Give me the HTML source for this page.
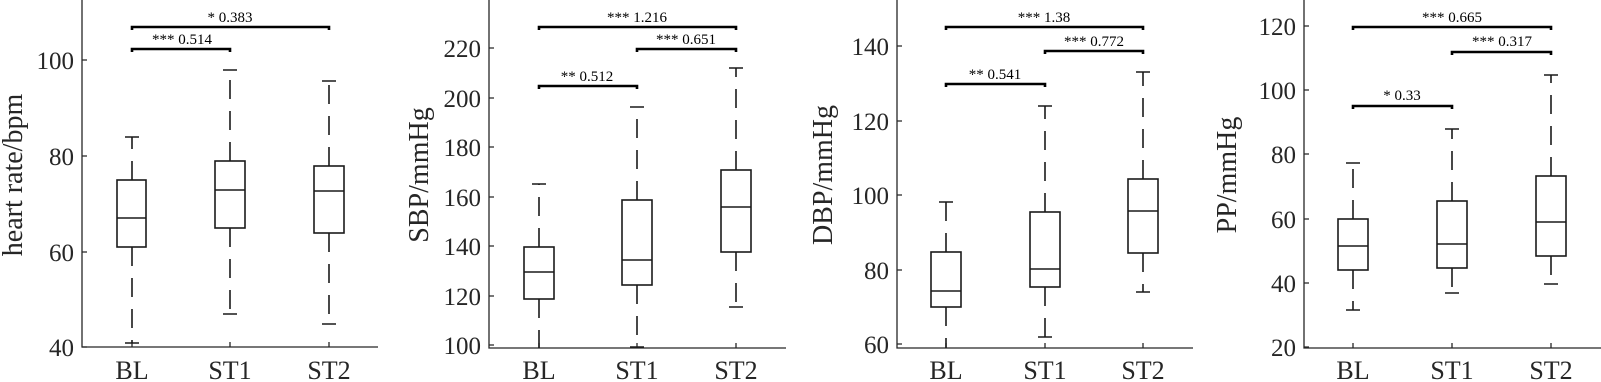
<!DOCTYPE html>
<html><head><meta charset="utf-8"><style>
html,body{margin:0;padding:0;background:#fff;}
svg{display:block;}
text{font-family:"Liberation Serif","DejaVu Serif",serif;}
.ax{stroke:#262626;stroke-width:1.3;fill:none}
.bx{stroke:#1a1a1a;stroke-width:1.6;fill:none}
.wd{stroke:#1a1a1a;stroke-width:1.6;stroke-dasharray:19 12;fill:none}
.br{stroke:#000;stroke-width:2.6;fill:none}
.tl{font-size:25px;fill:#262626;text-anchor:end}
.xl{font-size:26px;fill:#262626;text-anchor:middle}
.yl{font-size:28px;fill:#262626;text-anchor:middle}
.st{font-size:15px;fill:#000;text-anchor:middle}
</style></head><body>
<svg width="1601" height="382" viewBox="0 0 1601 382" xmlns="http://www.w3.org/2000/svg">
<!-- Panel 1 -->
<g>
<path class="ax" d="M82,0V347H378"/>
<path class="ax" d="M82,347h5M82,252h5M82,156h5M82,60h5M132,347v-5M230,347v-5M329,347v-5"/>
<text class="tl" x="74" y="356">40</text><text class="tl" x="74" y="261">60</text><text class="tl" x="74" y="165">80</text><text class="tl" x="74" y="69">100</text>
<text class="xl" x="132" y="379">BL</text><text class="xl" x="230" y="379">ST1</text><text class="xl" x="329" y="379">ST2</text>
<text class="yl" transform="translate(22,175) rotate(-90)">heart rate/bpm</text>
<rect class="bx" x="117" y="180" width="29" height="67"/><path class="bx" d="M117,218h29M125,137h14M125,343h14"/><path class="wd" d="M132,180V137M132,247V343"/>
<rect class="bx" x="215" y="161" width="30" height="67"/><path class="bx" d="M215,190h30M223,70h14M223,314h14"/><path class="wd" d="M230,161V70M230,228V314"/>
<rect class="bx" x="314" y="166" width="30" height="67"/><path class="bx" d="M314,191h30M322,81h14M322,324h14"/><path class="wd" d="M329,166V81M329,233V324"/>
<path class="br" d="M132,52v-3H230v3"/><text class="st" x="182" y="44">*** 0.514</text>
<path class="br" d="M132,30v-3H329v3"/><text class="st" x="230" y="22">* 0.383</text>
</g>
<!-- Panel 2 -->
<g>
<path class="ax" d="M489,0V348H786"/>
<path class="ax" d="M489,345h5M489,296h5M489,246h5M489,197h5M489,147h5M489,98h5M489,48h5M539,348v-5M637,348v-5M736,348v-5"/>
<text class="tl" x="481" y="354">100</text><text class="tl" x="481" y="305">120</text><text class="tl" x="481" y="255">140</text><text class="tl" x="481" y="206">160</text><text class="tl" x="481" y="156">180</text><text class="tl" x="481" y="107">200</text><text class="tl" x="481" y="57">220</text>
<text class="xl" x="539" y="379">BL</text><text class="xl" x="637" y="379">ST1</text><text class="xl" x="736" y="379">ST2</text>
<text class="yl" transform="translate(428,175) rotate(-90)">SBP/mmHg</text>
<rect class="bx" x="524" y="247" width="30" height="52"/><path class="bx" d="M524,272h30M532,184h14"/><path class="wd" d="M539,247V184M539,299V348"/>
<rect class="bx" x="622" y="200" width="30" height="85"/><path class="bx" d="M622,260h30M630,107h14M630,347h14"/><path class="wd" d="M637,200V107M637,285V347"/>
<rect class="bx" x="721" y="170" width="30" height="82"/><path class="bx" d="M721,207h30M729,68h14M729,307h14"/><path class="wd" d="M736,170V68M736,252V307"/>
<path class="br" d="M539,89v-3H637v3"/><text class="st" x="587" y="81">** 0.512</text>
<path class="br" d="M637,52v-3H736v3"/><text class="st" x="686" y="44">*** 0.651</text>
<path class="br" d="M539,30v-3H736v3"/><text class="st" x="637" y="22">*** 1.216</text>
</g>
<!-- Panel 3 -->
<g>
<path class="ax" d="M897,0V348H1193"/>
<path class="ax" d="M897,344h5M897,270h5M897,195h5M897,121h5M897,46h5M946,348v-5M1045,348v-5M1143,348v-5"/>
<text class="tl" x="889" y="353">60</text><text class="tl" x="889" y="279">80</text><text class="tl" x="889" y="204">100</text><text class="tl" x="889" y="130">120</text><text class="tl" x="889" y="55">140</text>
<text class="xl" x="946" y="379">BL</text><text class="xl" x="1045" y="379">ST1</text><text class="xl" x="1143" y="379">ST2</text>
<text class="yl" transform="translate(832,175) rotate(-90)">DBP/mmHg</text>
<rect class="bx" x="931" y="252" width="30" height="55"/><path class="bx" d="M931,291h30M939,202h14"/><path class="wd" d="M946,252V202M946,307V348"/>
<rect class="bx" x="1030" y="212" width="30" height="75"/><path class="bx" d="M1030,269h30M1038,106h14M1038,337h14"/><path class="wd" d="M1045,212V106M1045,287V337"/>
<rect class="bx" x="1128" y="179" width="30" height="74"/><path class="bx" d="M1128,211h30M1136,72h14M1136,292h14"/><path class="wd" d="M1143,179V72M1143,253V292"/>
<path class="br" d="M946,87v-3H1045v3"/><text class="st" x="995" y="79">** 0.541</text>
<path class="br" d="M1045,54v-3H1143v3"/><text class="st" x="1094" y="46">*** 0.772</text>
<path class="br" d="M946,30v-3H1143v3"/><text class="st" x="1044" y="22">*** 1.38</text>
</g>
<!-- Panel 4 -->
<g>
<path class="ax" d="M1304,0V348H1601"/>
<path class="ax" d="M1304,347h5M1304,283h5M1304,219h5M1304,154h5M1304,90h5M1304,26h5M1353,348v-5M1452,348v-5M1551,348v-5"/>
<text class="tl" x="1296" y="356">20</text><text class="tl" x="1296" y="292">40</text><text class="tl" x="1296" y="228">60</text><text class="tl" x="1296" y="163">80</text><text class="tl" x="1296" y="99">100</text><text class="tl" x="1296" y="35">120</text>
<text class="xl" x="1353" y="379">BL</text><text class="xl" x="1452" y="379">ST1</text><text class="xl" x="1551" y="379">ST2</text>
<text class="yl" transform="translate(1236,175) rotate(-90)">PP/mmHg</text>
<rect class="bx" x="1338" y="219" width="30" height="51"/><path class="bx" d="M1338,246h30M1346,163h14M1346,310h14"/><path class="wd" d="M1353,219V163M1353,270V310"/>
<rect class="bx" x="1437" y="201" width="30" height="67"/><path class="bx" d="M1437,244h30M1445,129h14M1445,293h14"/><path class="wd" d="M1452,201V129M1452,268V293"/>
<rect class="bx" x="1536" y="176" width="30" height="80"/><path class="bx" d="M1536,222h30M1544,75h14M1544,284h14"/><path class="wd" d="M1551,176V75M1551,256V284"/>
<path class="br" d="M1353,109v-3H1452v3"/><text class="st" x="1402" y="100">* 0.33</text>
<path class="br" d="M1452,55v-3H1551v3"/><text class="st" x="1502" y="46">*** 0.317</text>
<path class="br" d="M1353,30v-3H1551v3"/><text class="st" x="1452" y="22">*** 0.665</text>
</g>
</svg>
</body></html>
